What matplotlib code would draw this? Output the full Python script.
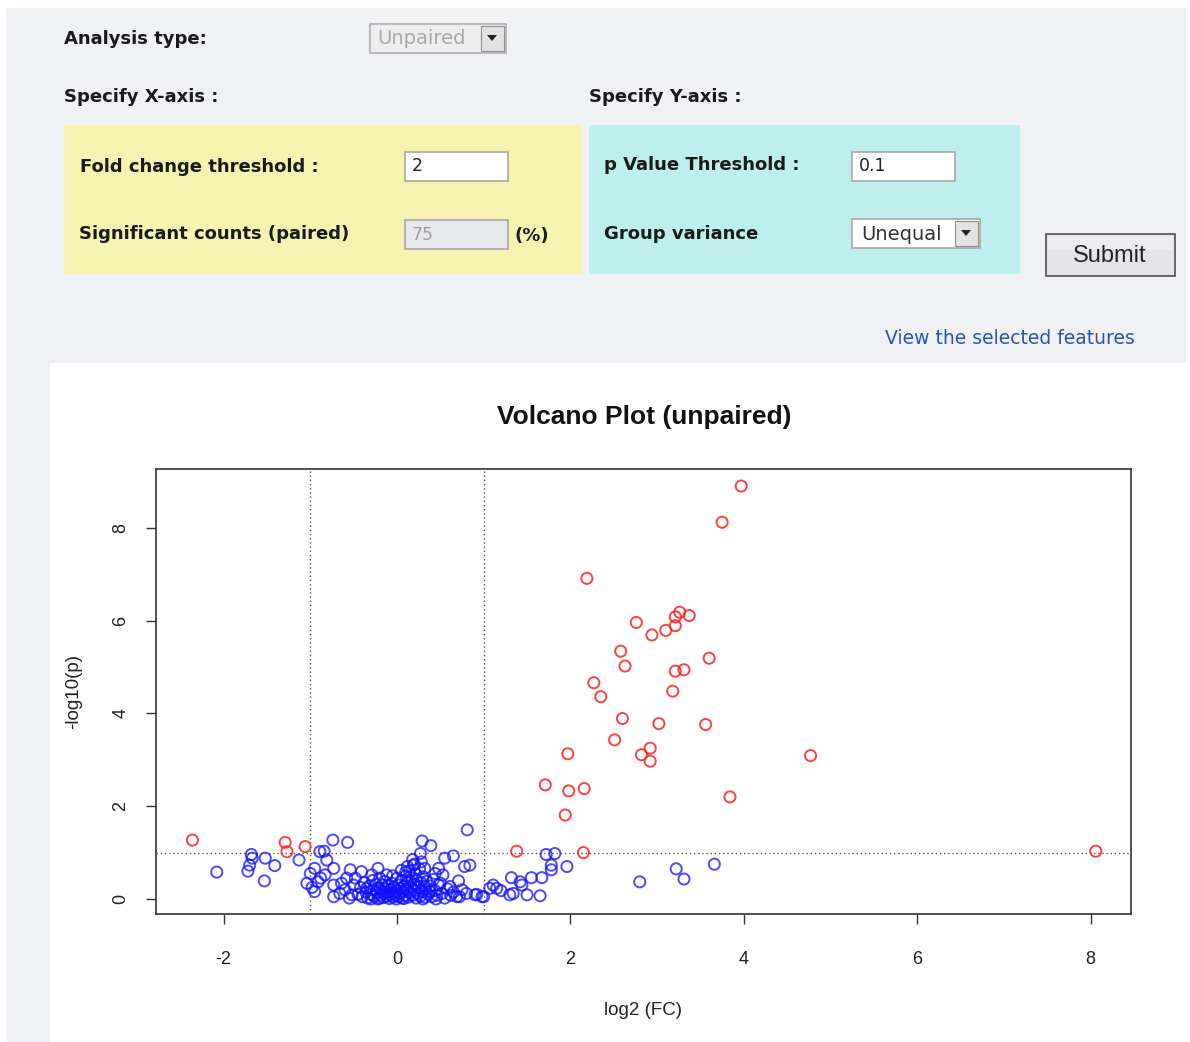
import matplotlib
matplotlib.use("Agg")
import matplotlib.pyplot as plt
from matplotlib.patches import Rectangle, Polygon

# ---------------- data ----------------
red_x = [3.97, 3.75, 2.19, 3.26, 3.37, 3.21, 3.21, 3.10, 2.76, 2.94, 2.58, 2.63, 3.60,
         3.21, 3.31, 2.27, 2.35, 3.18, 2.60, 3.02, 3.56, 2.51, 2.92, 2.82, 2.92, 1.97,
         4.77, 1.71, 1.98, 2.16, 3.84, 1.94, 8.06, 1.38, 2.15, -2.36, -1.29, -1.27, -1.06]
red_y = [8.90, 8.12, 6.91, 6.18, 6.11, 6.08, 5.89, 5.79, 5.96, 5.69, 5.34, 5.02, 5.19,
         4.91, 4.94, 4.66, 4.36, 4.48, 3.89, 3.78, 3.76, 3.43, 3.25, 3.11, 2.97, 3.13,
         3.09, 2.46, 2.33, 2.38, 2.20, 1.81, 1.03, 1.03, 1.00, 1.27, 1.22, 1.02, 1.13]

blue_x = [-2.08, -1.68, -1.67, -1.70, -1.72, -1.52, -1.41, -1.53, -1.13, -0.74, -0.57, -0.89,
          -0.84, -0.81, -0.95, -0.73, -1.04, -0.91, -0.95, -0.73, -0.64, -0.54, -0.48, -0.73,
          -0.52, -0.41, -0.22, -0.29, -0.35, -0.83, -1.00, -0.66, -0.88, -0.98,
          0.81, 0.29, 0.39, 0.27, 0.55, 0.65, 0.78, 0.48, 0.44, 0.53, 0.71, 0.50, 0.61, 0.38,
          0.80, 0.98, 0.69, 0.92, 0.19, 0.32, 0.84,
          1.72, 1.82, 1.78, 1.78, 1.96, 1.32, 1.55, 1.67, 1.42, 1.44, 1.11, 1.07, 1.15, 1.30,
          1.34, 1.50, 1.65, 1.00, 0.90, 1.20,
          2.80, 3.22, 3.31, 3.66,
          -0.45, -0.42, -0.40, -0.38, -0.36, -0.34, -0.32, -0.30, -0.28, -0.27, -0.26, -0.24,
          -0.23, -0.22, -0.21, -0.20, -0.19, -0.18, -0.17, -0.16, -0.15, -0.14, -0.13, -0.12,
          -0.11, -0.10, -0.09, -0.08, -0.07, -0.06, -0.05, -0.04, -0.03, -0.02, -0.01, 0.00,
          0.01, 0.02, 0.03, 0.04, 0.05, 0.06, 0.07, 0.08, 0.09, 0.10, 0.11, 0.12, 0.13, 0.14,
          0.15, 0.16, 0.17, 0.18, 0.19, 0.20, 0.21, 0.22, 0.23, 0.24, 0.25, 0.26, 0.27, 0.28,
          0.29, 0.30, 0.31, 0.32, 0.33, 0.34, 0.36, 0.38, 0.40, 0.42, 0.44, 0.46, 0.48, 0.52,
          0.55, 0.58, 0.62, 0.65, 0.72, 0.75, -0.60, -0.55, -0.50, -0.58, 0.05, 0.12, 0.20,
          0.28, 0.18, 0.10, -0.05, -0.12, 0.00, 0.22, 0.15, -0.20, 0.08, 0.30, 0.45, -0.30]
blue_y = [0.58, 0.96, 0.88, 0.73, 0.60, 0.88, 0.72, 0.39, 0.84, 1.27, 1.22, 1.02,
          1.03, 0.84, 0.66, 0.66, 0.34, 0.37, 0.16, 0.30, 0.34, 0.63, 0.45, 0.05,
          0.09, 0.59, 0.66, 0.52, 0.23, 0.52, 0.55, 0.12, 0.45, 0.25,
          1.49, 1.25, 1.15, 0.98, 0.88, 0.93, 0.70, 0.66, 0.55, 0.52, 0.39, 0.34, 0.27, 0.16,
          0.12, 0.05, 0.05, 0.10, 0.73, 0.66, 0.73,
          0.96, 0.98, 0.73, 0.63, 0.70, 0.46, 0.46, 0.46, 0.37, 0.30, 0.30, 0.23, 0.23, 0.09,
          0.12, 0.09, 0.07, 0.05, 0.09, 0.18,
          0.37, 0.65, 0.43, 0.75,
          0.10, 0.25, 0.05, 0.35, 0.15, 0.02, 0.28, 0.10, 0.40, 0.20, 0.05, 0.32,
          0.14, 0.00, 0.24, 0.45, 0.08, 0.18, 0.30, 0.03, 0.12, 0.38, 0.22, 0.06,
          0.15, 0.28, 0.01, 0.10, 0.20, 0.34, 0.04, 0.14, 0.25, 0.08, 0.00, 0.18,
          0.30, 0.05, 0.12, 0.22, 0.40, 0.02, 0.15, 0.28, 0.08, 0.50, 0.20, 0.35, 0.04, 0.60,
          0.14, 0.26, 0.45, 0.08, 0.32, 0.18, 0.55, 0.02, 0.40, 0.12, 0.25, 0.65, 0.06, 0.35,
          0.16, 0.48, 0.28, 0.04, 0.20, 0.38, 0.10, 0.28, 0.05, 0.42, 0.18, 0.08, 0.30, 0.12,
          0.02, 0.22, 0.08, 0.15, 0.05, 0.20, 0.20, 0.02, 0.30, 0.45, 0.62, 0.70, 0.75,
          0.80, 0.85, 0.58, 0.50, 0.52, 0.45, 0.30, 0.40, 0.02, 0.01, 0.00, 0.00, 0.00]

fc_threshold = 2
p_threshold = 0.1
x_ticks = [-2, 0, 2, 4, 6, 8]
y_ticks = [0, 2, 4, 6, 8]

# ---------------- figure ----------------
W, H = 1190, 1042
fig = plt.figure(figsize=(W / 100, H / 100), dpi=100)
fig.patch.set_facecolor("#f0f1f5")

bg = fig.add_axes([0, 0, 1, 1])
bg.set_xlim(0, W)
bg.set_ylim(H, 0)
bg.axis("off")

def rect(x0, y0, x1, y1, fc, ec="none", lw=1.0, z=1):
    bg.add_patch(Rectangle((x0, y0), x1 - x0, y1 - y0, facecolor=fc, edgecolor=ec, lw=lw, zorder=z))

# white frame edges of the page
rect(0, 0, W, 8, "white")
rect(0, 0, 6, H, "white")
rect(W - 3, 0, W, H, "white")

LBL = dict(family="DejaVu Sans", fontweight="bold", fontsize=13, color="#1a1a1a", va="center")
INP = dict(family="DejaVu Sans", fontsize=14, va="center")

bg.text(64, 39, "Analysis type:", **LBL)
# disabled dropdown
rect(370, 24, 506, 53, "#eeeeee", "#b0b0b0", 1.2, 2)
rect(481, 26, 504, 51, "#e2e2e2", "#909090", 0.8, 3)
bg.add_patch(Polygon([[487, 35], [497, 35], [492, 41]], closed=True, fc="#222222", ec="none", zorder=4))
bg.text(377, 39, "Unpaired", color="#a8a8a8", **INP)

bg.text(64, 97, "Specify X-axis :", **LBL)
bg.text(589, 97, "Specify Y-axis :", **LBL)

# coloured boxes
rect(64, 125, 582, 274, "#f6f3b1")
rect(589, 125, 1020, 274, "#bdefee")

bg.text(80, 167, "Fold change threshold :", **LBL)
rect(405, 152, 508, 181, "white", "#a8a8a8", 1.2, 2)
bg.text(412, 166, str(fc_threshold), family="DejaVu Sans", fontsize=12.5, color="#222222", va="center")

bg.text(79, 234, "Significant counts (paired)", **LBL)
rect(405, 220, 508, 249, "#e6e8ec", "#a8a8a8", 1.2, 2)
bg.text(412, 235, "75", family="DejaVu Sans", fontsize=12.5, color="#a0a0a0", va="center")
bg.text(514, 236, "(%)", **LBL)

bg.text(604, 165, "p Value Threshold :", **LBL)
rect(852, 152, 955, 181, "white", "#a8a8a8", 1.2, 2)
bg.text(859, 166, str(p_threshold), family="DejaVu Sans", fontsize=12.5, color="#222222", va="center")

bg.text(604, 234, "Group variance", **LBL)
rect(852, 219, 980, 248, "white", "#a8a8a8", 1.2, 2)
rect(955, 221, 978, 246, "#e2e2e2", "#909090", 0.8, 3)
bg.add_patch(Polygon([[961, 230], [971, 230], [966, 236]], closed=True, fc="#222222", ec="none", zorder=4))
bg.text(861, 234, "Unequal", color="#333333", **INP)

# submit button
rect(1046, 234, 1175, 276, "#e4e4e8", "#505050", 1.2, 2)
rect(1048, 236, 1173, 250, "#ececf0", "none", 0, 3)
bg.text(1110, 256, "Submit", family="Liberation Sans", fontsize=17, color="#222222",
        va="center", ha="center", zorder=4)

bg.text(1135, 338, "View the selected features", family="DejaVu Sans", fontsize=13.5,
        color="#2a55b0", va="center", ha="right")

# white plot panel
rect(50, 363, 1187, H, "white")

bg.text(644, 417, "Volcano Plot (unpaired)", family="Liberation Sans", fontweight="bold",
        fontsize=19, color="#111111", ha="center", va="center")

# ---------------- plot axes ----------------
L, R, T, B = 156, 1131, 469, 914
ax = fig.add_axes([L / W, 1 - B / H, (R - L) / W, (B - T) / H])
ax.set_xlim(-2.780, 8.466)
ax.set_ylim(-0.323, 9.267)
ax.set_facecolor("white")

ax.axvline(-1, color="#555555", ls=(0, (1, 2)), lw=1.0, zorder=1)
ax.axvline(1, color="#555555", ls=(0, (1, 2)), lw=1.0, zorder=1)
ax.axhline(1, color="#555555", ls=(0, (1, 2)), lw=1.0, zorder=1)

ax.scatter(blue_x, blue_y, s=64, facecolors="none", edgecolors="#1010ff", linewidths=1.4,
           alpha=0.75, zorder=2)
ax.scatter(red_x, red_y, s=64, facecolors="none", edgecolors="#ff2020", linewidths=1.4,
           alpha=0.85, zorder=3)

for sp in ax.spines.values():
    sp.set_color("#333333")
    sp.set_linewidth(1.2)

ax.set_xticks(x_ticks)
ax.set_yticks(y_ticks)
ax.set_xticklabels([str(v) for v in x_ticks])
ax.set_yticklabels([str(v) for v in y_ticks], rotation=90, va="center")
ax.tick_params(direction="out", length=7, width=1, color="#333333", labelsize=13,
               labelcolor="#222222")
ax.tick_params(axis="x", pad=20)
ax.tick_params(axis="y", pad=12)
for lab in ax.get_xticklabels() + ax.get_yticklabels():
    lab.set_family("Liberation Sans")

ax.set_xlabel("log2 (FC)", family="Liberation Sans", fontsize=13.5, color="#222222", labelpad=24)
ax.set_ylabel("-log10(p)", family="Liberation Sans", fontsize=13.5, color="#222222", labelpad=22)

fig.savefig("out.png", dpi=100, facecolor=fig.get_facecolor())
